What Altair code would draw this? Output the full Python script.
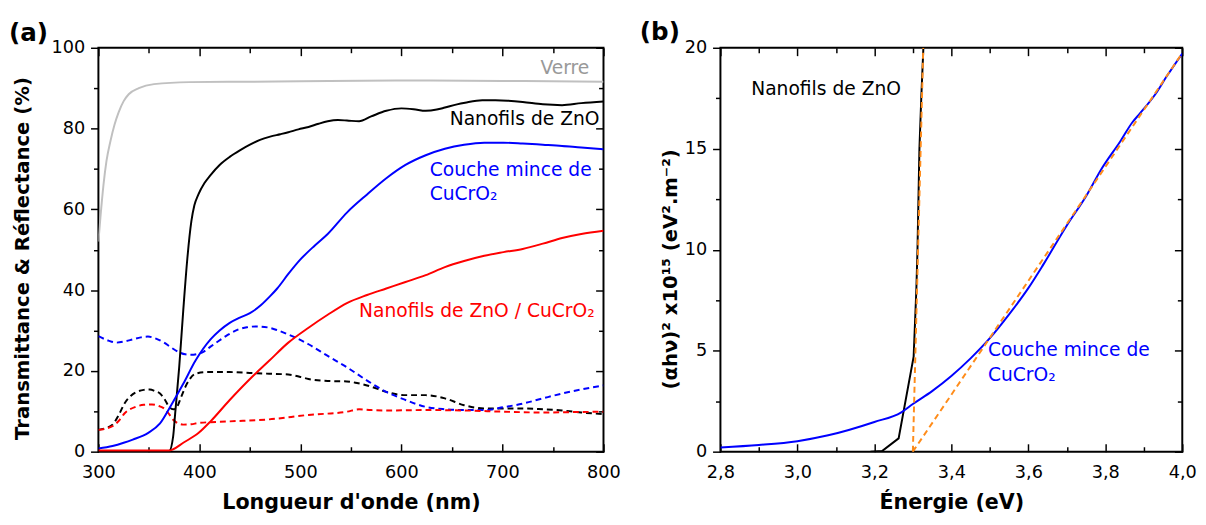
import altair as alt
import pandas as pd

FONT = "DejaVu Sans"

# ---------------- Panel (a): wavelength (nm) vs percent ----------------
verre_wl = [300, 302, 305, 308, 312, 316, 320, 325, 330, 340, 355, 390, 450, 500, 600, 700, 800]
verre_pct = [52, 58, 66, 72, 77, 81, 84, 86.8, 88.5, 90.0, 91.0, 91.5, 91.6, 91.7, 91.9, 91.8, 91.6]

zno_t_wl = [300, 365, 370, 374, 376, 380, 384, 388, 392, 395, 399, 405, 411, 420, 430, 440,
            450, 460, 470, 480, 488, 498, 508, 518, 527, 537, 546, 558, 570, 585, 600, 612,
            624, 635, 643, 655, 663, 680, 693, 705, 720, 740, 759, 778, 800]
zno_t_pct = [0, 0, 0.1, 3.8, 9.5, 21, 35, 47.7, 57, 61, 63.7, 66.5, 68.5, 71, 73, 74.6,
             76, 77.2, 78, 78.6, 79.1, 79.8, 80.4, 81.2, 81.8, 82.1, 82, 81.8, 83, 84.4, 85, 84.8,
             84.4, 84.7, 85.2, 86, 86.4, 87, 87, 86.9, 86.6, 86, 85.8, 86.3, 86.7]

cu_t_wl = [300, 314, 325, 334, 349, 361, 372, 384, 396, 411, 420, 430, 440, 450, 461, 470,
           477, 488, 500, 514, 527, 546, 566, 585, 604, 624, 643, 662, 682, 701, 720, 740,
           759, 778, 800]
cu_t_pct = [0.8, 1.4, 2.2, 3.0, 4.6, 7.0, 11.5, 16.8, 22.5, 27.8, 30.0, 31.9, 33.2, 34.3, 36.3, 38.5,
            40.4, 44.0, 47.6, 51.0, 53.9, 59.2, 63.7, 67.7, 71.0, 73.4, 75.0, 76.0, 76.5, 76.5, 76.3, 76.0,
            75.7, 75.3, 74.9]

zc_t_wl = [300, 370, 374, 384, 399, 411, 430, 450, 469, 488, 508, 527, 546, 566, 585, 604,
           624, 643, 662, 682, 701, 720, 740, 759, 778, 800]
zc_t_pct = [0.3, 0.3, 0.6, 2.2, 4.6, 7.5, 12.8, 18.0, 22.5, 27.0, 30.7, 33.9, 36.8, 38.8, 40.4, 42.0,
            43.7, 45.7, 47.2, 48.5, 49.4, 50.2, 51.5, 52.9, 53.9, 54.7]

cu_r_wl = [300, 310, 318, 326, 334, 342, 349, 357, 365, 372, 380, 386, 392, 398, 403, 411,
           419, 428, 438, 447, 456, 469, 478, 488, 498, 508, 527, 546, 566, 585, 604, 624,
           643, 662, 682, 701, 720, 740, 759, 778, 800]
cu_r_pct = [28.6, 27.5, 27.0, 27.3, 27.8, 28.3, 28.5, 28.0, 27.0, 25.8, 24.6, 24.1, 24.0, 24.2, 24.6, 26.0,
            27.4, 28.9, 30.2, 30.8, 31.0, 30.7, 30.0, 29.0, 27.9, 26.6, 23.7, 20.9, 17.6, 14.8, 12.8, 11.1,
            10.5, 10.3, 10.3, 11.0, 11.9, 13.2, 14.4, 15.4, 16.4]

zno_r_wl = [300, 308, 314, 320, 326, 332, 338, 345, 351, 356, 361, 366, 370, 374, 377, 382,
            386, 390, 396, 407, 430, 450, 469, 488, 500, 508, 527, 546, 556, 566, 585, 595,
            605, 624, 643, 662, 682, 720, 740, 759, 778, 800]
zno_r_pct = [5.4, 5.9, 6.7, 9.0, 12.0, 13.8, 14.8, 15.3, 15.4, 15.0, 14.4, 12.8, 11.1, 10.5, 10.8, 13.6,
             16.0, 17.8, 19.3, 19.7, 19.7, 19.5, 19.3, 19.1, 18.5, 18.0, 17.5, 17.4, 17.0, 16.4, 14.8, 14.2,
             14.0, 14.0, 13.2, 11.5, 10.7, 10.7, 10.5, 10.2, 9.7, 9.3]

zc_r_wl = [300, 314, 320, 326, 337, 345, 353, 360, 365, 370, 374, 379, 384, 392, 399, 430,
           469, 508, 546, 558, 570, 585, 624, 662, 701, 740, 770, 800]
zc_r_pct = [5.4, 6.3, 7.6, 9.5, 11.1, 11.6, 11.7, 11.3, 10.7, 9.3, 7.9, 7.0, 6.7, 6.8, 7.1, 7.5,
            8.0, 9.1, 9.9, 10.5, 10.3, 10.2, 10.3, 10.2, 9.9, 9.7, 9.8, 9.9]

wl_major = [300, 400, 500, 600, 700, 800]
wl_minor = [350, 450, 550, 650, 750]
pct_major = [0, 20, 40, 60, 80, 100]
pct_minor = [10, 30, 50, 70, 90]

# ---------------- Panel (b): energy (eV) vs (alpha h nu)^2 ----------------
cu_e = [2.80, 2.90, 3.00, 3.08, 3.20, 3.27, 3.30, 3.35, 3.40, 3.45, 3.50, 3.55, 3.60, 3.64,
        3.70, 3.75, 3.79, 3.84, 3.87, 3.89, 3.93, 3.96, 4.00]
cu_a = [0.21, 0.33, 0.52, 0.81, 1.47, 1.95, 2.36, 3.0, 3.75, 4.62, 5.62, 6.8, 8.1, 9.3,
        11.2, 12.65, 14.0, 15.4, 16.3, 16.75, 17.7, 18.6, 19.72]

zno_e = [3.19, 3.22, 3.263, 3.302, 3.309, 3.312, 3.317, 3.322, 3.328]
zno_a = [0, 0.03, 0.66, 4.7, 8.0, 10.0, 15.0, 17.6, 20.3]

fit_zno_e = [3.300, 3.327]
fit_zno_a = [0, 20]
fit_cu_e = [3.300, 3.995]
fit_cu_a = [0, 19.6]

e_major = [2.8, 3.0, 3.2, 3.4, 3.6, 3.8, 4.0]
e_minor = [2.9, 3.1, 3.3, 3.5, 3.7, 3.9]
a_major = [0, 5, 10, 15, 20]
a_minor = [2.5, 7.5, 12.5, 17.5]

PLOT_H = 411


def inward(n):
    return alt.ExprRef(expr=str(-n))


def tick_axis(orient, values, size):
    return alt.Axis(orient=orient, values=values, labels=False, title=None, ticks=True,
                    tickSize=size, tickColor="black", tickWidth=1.5, domain=False, grid=False)


def line_layer(xs, ys, xv, yv, color, dashed=False, interp="monotone"):
    df = pd.DataFrame({"x": xv, "y": yv})
    kw = dict(color=color, strokeWidth=2, clip=True, interpolate=interp)
    if dashed:
        kw["strokeDash"] = [6, 4]
    return alt.Chart(df).mark_line(**kw).encode(
        x=alt.X("x:Q", scale=xs, axis=None),
        y=alt.Y("y:Q", scale=ys, axis=None),
    )


def text_layer(xs, ys, txt, x, y, color, align="left"):
    df = pd.DataFrame({"x": [x], "y": [y], "t": [txt]})
    return alt.Chart(df).mark_text(align=align, baseline="alphabetic", font=FONT,
                                   fontSize=19, color=color).encode(
        x=alt.X("x:Q", scale=xs, axis=None),
        y=alt.Y("y:Q", scale=ys, axis=None),
        text="t:N",
    )


def tag_layer(tag, dx, dy):
    df = pd.DataFrame({"t": [tag]})
    return alt.Chart(df).mark_text(align="left", baseline="middle", font=FONT, fontSize=25,
                                   fontWeight="bold", color="black").encode(
        x=alt.value(dx), y=alt.value(dy), text="t:N")


def axis_layers(xs, ys, xdom, ydom, xmaj, xmin, ymaj, ymin, xtitle, ytitle,
                ytitle_pad, ytitle_y, xlabel_kw):
    anchor = pd.DataFrame({"x": [xdom[0]], "y": [ydom[0]]})

    def ax(xaxis, yaxis):
        return alt.Chart(anchor).mark_point(opacity=0).encode(
            x=alt.X("x:Q", scale=xs, axis=xaxis),
            y=alt.Y("y:Q", scale=ys, axis=yaxis),
        )

    xlab = alt.Axis(orient="bottom", values=xmaj, ticks=False, domain=False, grid=False,
                    labels=True, labelFont=FONT, labelFontSize=18, labelColor="black",
                    labelPadding=12, labelFlush=False, labelOverlap=False,
                    title=xtitle, titleFont=FONT, titleFontSize=21, titleFontWeight="bold",
                    titleColor="black", titlePadding=11, **xlabel_kw)
    ylab = alt.Axis(orient="left", values=ymaj, ticks=True, tickSize=8, tickColor="black",
                    tickWidth=1.5, domain=False, grid=False,
                    labels=True, labelFont=FONT, labelFontSize=18, labelColor="black",
                    labelPadding=6, labelFlush=False, labelOverlap=False,
                    title=ytitle, titleFont=FONT, titleFontSize=20, titleFontWeight="bold",
                    titleColor="black", titlePadding=ytitle_pad, titleY=ytitle_y)
    return [
        ax(xlab, ylab),
        ax(tick_axis("bottom", xmaj, inward(8)), tick_axis("left", ymin, 5)),
        ax(tick_axis("bottom", xmin, inward(5)), tick_axis("right", ymaj, inward(8))),
        ax(tick_axis("top", xmaj, inward(8)), tick_axis("right", ymin, inward(5))),
        ax(tick_axis("top", xmin, inward(5)), None),
    ]


# ---------- Panel (a) ----------
xa = alt.Scale(domain=[300, 800], nice=False, zero=False)
ya = alt.Scale(domain=[0, 100], nice=False, zero=False)

layers_a = [
    line_layer(xa, ya, verre_wl, verre_pct, "#c0c0c0"),
    line_layer(xa, ya, zno_r_wl, zno_r_pct, "black", dashed=True),
    line_layer(xa, ya, cu_r_wl, cu_r_pct, "#0000ff", dashed=True),
    line_layer(xa, ya, zc_r_wl, zc_r_pct, "#ff0000", dashed=True),
    line_layer(xa, ya, zno_t_wl, zno_t_pct, "black"),
    line_layer(xa, ya, cu_t_wl, cu_t_pct, "#0000ff"),
    line_layer(xa, ya, zc_t_wl, zc_t_pct, "#ff0000"),
    text_layer(xa, ya, "Verre", 786, 93.4, "#999999", align="right"),
    text_layer(xa, ya, "Nanofils de ZnO", 796, 80.8, "black", align="right"),
    text_layer(xa, ya, "Couche mince de", 628, 68.2, "#0000ff"),
    text_layer(xa, ya, "CuCrO\u2082", 628, 62.3, "#0000ff"),
    text_layer(xa, ya, "Nanofils de ZnO / CuCrO\u2082", 558, 33.4, "#ff0000"),
    tag_layer("(a)", -91, -15),
]
layers_a += axis_layers(xa, ya, [300, 800], [0, 100], wl_major, wl_minor, pct_major, pct_minor,
                        "Longueur d'onde (nm)", "Transmittance & Réflectance (%)",
                        19, 214, {})

panel_a = alt.layer(*layers_a).resolve_axis(x="independent", y="independent").properties(
    width=514, height=PLOT_H)

# ---------- Panel (b) ----------
xb = alt.Scale(domain=[2.8, 4.0], nice=False, zero=False)
yb = alt.Scale(domain=[0, 20], nice=False, zero=False)

layers_b = [
    line_layer(xb, yb, zno_e, zno_a, "black", interp="linear"),
    line_layer(xb, yb, cu_e, cu_a, "#0000ff"),
    line_layer(xb, yb, fit_zno_e, fit_zno_a, "#ff8c1a", dashed=True, interp="linear"),
    line_layer(xb, yb, fit_cu_e, fit_cu_a, "#ff8c1a", dashed=True, interp="linear"),
    text_layer(xb, yb, "Nanofils de ZnO", 2.88, 17.68, "black"),
    text_layer(xb, yb, "Couche mince de", 3.495, 4.74, "#0000ff"),
    text_layer(xb, yb, "CuCrO\u2082", 3.495, 3.52, "#0000ff"),
    tag_layer("(b)", -82, -16),
]
layers_b += axis_layers(xb, yb, [2.8, 4.0], [0, 20], e_major, e_minor, a_major, a_minor,
                        "Énergie (eV)", "(αhν)² x10¹⁵ (eV².m⁻²)",
                        4, 225,
                        {"labelExpr": "replace(format(datum.value, '.1f'), '.', ',')"})

panel_b = alt.layer(*layers_b).resolve_axis(x="independent", y="independent").properties(
    width=470, height=PLOT_H)

chart = alt.hconcat(panel_a, panel_b, spacing=17).configure_view(
    stroke="black", strokeWidth=2
).properties(padding={"left": 0, "top": 7, "right": 0, "bottom": 0})

chart.save("out.html", embed_options={"renderer": "svg", "actions": False})
